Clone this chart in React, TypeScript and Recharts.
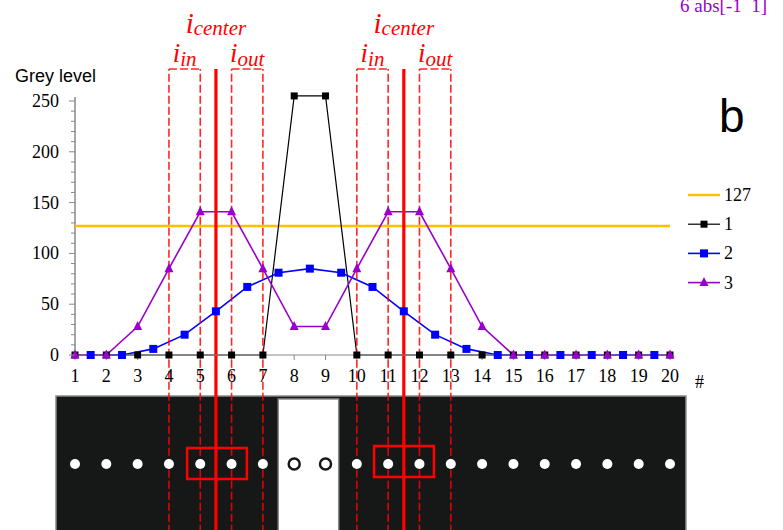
import React from "react";
import {
  ComposedChart,
  Line,
  XAxis,
  YAxis,
  Legend,
  ReferenceLine,
  ReferenceArea,
  ReferenceDot,
} from "recharts";

// pixel index along the scan line
const positions = [1, 2, 3, 4, 5, 6, 7, 8, 9, 10, 11, 12, 13, 14, 15, 16, 17, 18, 19, 20];
const threshold = [127, 127, 127, 127, 127, 127, 127, 127, 127, 127, 127, 127, 127, 127, 127, 127, 127, 127, 127, 127];
const profile1 = [0, 0, 0, 0, 0, 0, 0, 255, 255, 0, 0, 0, 0, 0, 0, 0, 0, 0, 0, 0];
const halfPositions = [1.5, 2.5, 3.5, 4.5, 5.5, 6.5, 7.5, 8.5, 9.5, 10.5, 11.5, 12.5, 13.5, 14.5, 15.5, 16.5, 17.5, 18.5, 19.5];
const profile2 = [0, 0, 6, 20, 43, 67, 81, 85, 81, 67, 43, 20, 6, 0, 0, 0, 0, 0, 0];
const profile3 = [0, 0, 28, 85, 141, 141, 85, 28, 28, 85, 141, 141, 85, 28, 0, 0, 0, 0, 0, 0];
const yTicks = [0, 10, 20, 30, 40, 50, 60, 70, 80, 90, 100, 110, 120, 130, 140, 150, 160, 170, 180, 190, 200, 210, 220, 230, 240, 250];

// annotation positions (in pixel index units)
const edgeMarks = [4, 5, 6, 7, 10, 11, 12, 13];
const centerMarks = [5.5, 11.5];
const brackets = [[4, 5], [6, 7], [10, 11], [12, 13]];
const sideLabels = [
  { x: 4.5, sub: "in" },
  { x: 6.5, sub: "out" },
  { x: 10.5, sub: "in" },
  { x: 12.5, sub: "out" },
];
const hollowPixels = [8, 9];
const brightBlock = [7.49, 9.42];
const windows = [
  [4.58, 6.49, -91.5, -122],
  [10.55, 12.46, -89.6, -120],
];

const ORANGE = "#FFC000";
const BLUE = "#0000FF";
const PURPLE = "#9900CC";
const RED = "#FF0000";
const SERIF = "'Liberation Serif', 'Times New Roman', serif";
const SANS = "'Liberation Sans', Arial, sans-serif";

const TOP = 281.5;
const BOTTOM = -175;

function Marker({ kind, cx, cy, color, size }: any) {
  if (kind === "square") {
    return <rect x={cx - size / 2} y={cy - size / 2} width={size} height={size} fill={color} />;
  }
  if (kind === "triangle") {
    const h = size / 2;
    return (
      <polygon
        points={`${cx},${cy - h - 1} ${cx - h},${cy + h - 1} ${cx + h},${cy + h - 1}`}
        fill={color}
      />
    );
  }
  return null;
}

const legendItems = [
  { label: "127", color: ORANGE, kind: "none", width: 2.5, size: 0 },
  { label: "1", color: "#000", kind: "square", width: 1.2, size: 7 },
  { label: "2", color: BLUE, kind: "square", width: 1.6, size: 8 },
  { label: "3", color: PURPLE, kind: "triangle", width: 1.6, size: 9 },
];

function LegendBox() {
  return (
    <svg width={100} height={120}>
      {legendItems.map((it, i) => {
        const cy = 12 + i * 29.2;
        return (
          <g key={it.label}>
            <line x1={5} x2={37} y1={cy} y2={cy} stroke={it.color} strokeWidth={it.width} />
            <Marker kind={it.kind} cx={21} cy={cy} color={it.color} size={it.size} />
            <text x={41} y={cy + 6} fontFamily={SERIF} fontSize={18} fill="#000">
              {it.label}
            </text>
          </g>
        );
      })}
    </svg>
  );
}

function XTick({ x, y, payload }: any) {
  return (
    <text x={x} y={y + 22} textAnchor="middle" fontFamily={SERIF} fontSize={18} fill="#000">
      {payload.value}
    </text>
  );
}

function YTick({ x, y, payload }: any) {
  const major = payload.value % 50 === 0;
  return (
    <g>
      <line x1={x - (major ? 6 : 4)} x2={x} y1={y} y2={y} stroke="#888" strokeWidth={1} />
      {major && (
        <text x={x - 16} y={y + 6} textAnchor="end" fontFamily={SERIF} fontSize={18} fill="#000">
          {payload.value}
        </text>
      )}
    </g>
  );
}

const iLabel = (sub: string, big: number, small: number, drop: number) => (p: any) => (
  <text
    x={p.cx}
    y={p.cy}
    textAnchor="middle"
    fill={RED}
    fontFamily={SERIF}
    fontStyle="italic"
  >
    <tspan fontSize={big}>i</tspan>
    <tspan fontSize={small} dy={drop}>
      {sub}
    </tspan>
  </text>
);

export default function App() {
  const mainData = positions.map((x, i) => ({
    x,
    t: threshold[i],
    p1: profile1[i],
    p3: profile3[i],
  }));
  const blueData = halfPositions.map((x, i) => ({ x, p2: profile2[i] }));

  return (
    <div style={{ position: "absolute", left: 0, top: 0, width: 783, height: 530, background: "#fff" }}>
      <ComposedChart
        width={783}
        height={530}
        data={mainData}
        margin={{ top: 69, right: 113, left: 15, bottom: 145 }}
      >
        <XAxis
          type="number"
          dataKey="x"
          domain={[1, 20]}
          ticks={positions}
          interval={0}
          tickSize={5}
          tickMargin={0}
          stroke="#888"
          tick={<XTick />}
        />
        <YAxis
          type="number"
          domain={[0, TOP]}
          ticks={yTicks}
          interval={0}
          width={60}
          tickSize={0}
          tickMargin={0}
          axisLine={false}
          tickLine={false}
          tick={<YTick />}
        />
        <Legend
          layout="vertical"
          align="center"
          verticalAlign="middle"
          wrapperStyle={{ left: 683, top: 183, width: 100, height: 120 }}
          content={<LegendBox />}
        />

        {/* image strip under the plot */}
        <ReferenceArea
          x1={0.393}
          x2={20.51}
          y1={BOTTOM}
          y2={-40.4}
          fill="#161818"
          fillOpacity={1}
          stroke="#8a8a8a"
          strokeWidth={1.5}
          ifOverflow="visible"
        />
        <ReferenceArea
          x1={brightBlock[0]}
          x2={brightBlock[1]}
          y1={BOTTOM}
          y2={-43.3}
          fill="#ffffff"
          fillOpacity={1}
          stroke="#8a8a8a"
          strokeWidth={1.5}
          ifOverflow="visible"
        />
        {positions.map((p) =>
          hollowPixels.includes(p) ? (
            <ReferenceDot
              key={`d${p}`}
              x={p}
              y={-107.3}
              r={5.5}
              fill="#ffffff"
              stroke="#161818"
              strokeWidth={2.5}
              ifOverflow="visible"
            />
          ) : (
            <ReferenceDot
              key={`d${p}`}
              x={p}
              y={-107.3}
              r={5}
              fill="#ffffff"
              stroke="none"
              ifOverflow="visible"
            />
          )
        )}
        {windows.map(([a, b, y1, y2], i) => (
          <ReferenceArea
            key={`w${i}`}
            x1={a}
            x2={b}
            y1={y2}
            y2={y1}
            fill="none"
            fillOpacity={0}
            stroke={RED}
            strokeWidth={2.5}
            ifOverflow="visible"
          />
        ))}

        {/* y axis line */}
        <ReferenceLine
          segment={[{ x: 1, y: 0 }, { x: 1, y: 254 }]}
          stroke="#888"
          strokeWidth={1.5}
          ifOverflow="visible"
        />

        <Line
          dataKey="t"
          name="127"
          stroke={ORANGE}
          strokeWidth={2.5}
          dot={false}
          isAnimationActive={false}
        />
        <Line
          dataKey="p1"
          name="1"
          stroke="#000"
          strokeWidth={1.2}
          dot={(p: any) => <Marker key={`a${p.index}`} kind="square" cx={p.cx} cy={p.cy} color="#000" size={7} />}
          isAnimationActive={false}
        />
        <Line
          data={blueData}
          dataKey="p2"
          name="2"
          stroke={BLUE}
          strokeWidth={1.6}
          dot={(p: any) => <Marker key={`b${p.index}`} kind="square" cx={p.cx} cy={p.cy} color={BLUE} size={8} />}
          isAnimationActive={false}
        />
        <Line
          dataKey="p3"
          name="3"
          stroke={PURPLE}
          strokeWidth={1.6}
          dot={(p: any) => <Marker key={`c${p.index}`} kind="triangle" cx={p.cx} cy={p.cy} color={PURPLE} size={9} />}
          isAnimationActive={false}
        />

        {/* red annotations */}
        {edgeMarks.map((m) => (
          <ReferenceLine
            key={`e${m}`}
            segment={[{ x: m, y: BOTTOM }, { x: m, y: TOP }]}
            stroke={RED}
            strokeOpacity={0.85}
            strokeWidth={1.6}
            strokeDasharray="8 3"
            ifOverflow="visible"
          />
        ))}
        {brackets.map(([a, b]) => (
          <ReferenceLine
            key={`br${a}`}
            segment={[{ x: a, y: TOP }, { x: b, y: TOP }]}
            stroke={RED}
            strokeOpacity={0.85}
            strokeWidth={1.6}
            strokeDasharray="8 3"
            ifOverflow="visible"
          />
        ))}
        {centerMarks.map((m) => (
          <ReferenceLine
            key={`c${m}`}
            segment={[{ x: m, y: BOTTOM }, { x: m, y: TOP }]}
            stroke={RED}
            strokeWidth={3.2}
            ifOverflow="visible"
          />
        ))}
        {centerMarks.map((m) => (
          <ReferenceDot
            key={`lc${m}`}
            x={m}
            y={316.5}
            r={1}
            ifOverflow="visible"
            shape={iLabel("center", 29, 21, 2)}
          />
        ))}
        {sideLabels.map((s) => (
          <ReferenceDot
            key={`ls${s.x}`}
            x={s.x}
            y={288.5}
            r={1}
            ifOverflow="visible"
            shape={iLabel(s.sub, 27, 21, 4)}
          />
        ))}
      </ComposedChart>

      <svg
        width={783}
        height={530}
        style={{ position: "absolute", left: 0, top: 0, pointerEvents: "none" }}
      >
        <text x={15} y={82} fontFamily={SANS} fontSize={18} fill="#000">
          Grey level
        </text>
        <text x={719} y={132} fontFamily={SANS} fontSize={46} fill="#000">
          b
        </text>
        <text x={695} y={388} fontFamily={SERIF} fontSize={18} fill="#000">
          #
        </text>
        <text x={680} y={12} fontFamily={SERIF} fontSize={19} fill={PURPLE} xmlSpace="preserve">
          {"6 abs[-1  1]"}
        </text>
      </svg>
    </div>
  );
}
